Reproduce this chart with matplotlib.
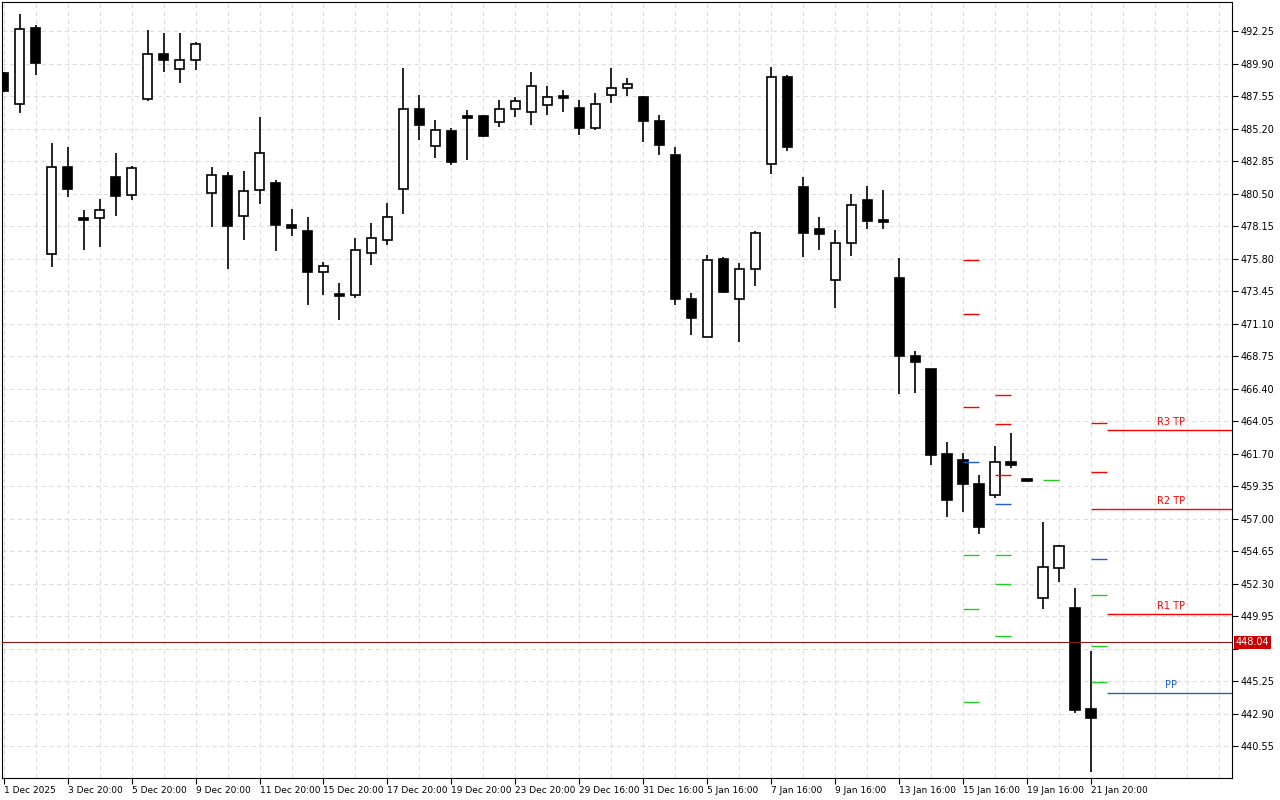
import matplotlib.pyplot as plt
from matplotlib.patches import Rectangle
import numpy as np

# OHLC, one candle per index
opens = [489.21, 486.97, 492.47, 476.12, 482.41, 478.65, 478.73, 481.69, 480.39, 487.33,
         490.59, 489.50, 490.15, 480.53, 481.76, 478.87, 480.75, 481.26, 478.22, 477.79,
         474.83, 473.16, 473.16, 476.20, 477.14, 480.82, 486.61, 483.93, 485.02, 486.03,
         486.10, 485.67, 486.61, 486.39, 486.90, 487.48, 486.68, 485.24, 487.62, 488.13,
         487.48, 485.74, 483.28, 472.87, 470.12, 475.76, 472.87, 475.04, 482.63, 488.92,
         480.97, 477.93, 474.25, 476.92, 480.03, 478.51, 474.39, 468.75, 467.81, 461.66,
         461.23, 459.49, 458.70, 461.09, 459.78, 451.25, 453.42, 450.53, 443.23]
highs = [489.28, 493.48, 492.68, 484.15, 483.86, 479.31, 480.10, 483.43, 482.49, 492.32,
         492.10, 492.10, 491.45, 482.41, 482.05, 482.13, 486.03, 481.48, 479.38, 478.80,
         475.55, 474.03, 477.28, 478.37, 479.81, 489.57, 487.62, 485.81, 485.24, 486.54,
         486.18, 487.26, 487.48, 489.28, 488.27, 487.98, 487.26, 487.77, 489.57, 488.85,
         487.55, 486.18, 483.86, 473.30, 476.05, 475.91, 475.47, 477.79, 489.65, 489.07,
         481.69, 478.80, 477.86, 480.46, 481.04, 480.75, 475.84, 469.11, 467.81, 462.53,
         461.74, 460.15, 462.24, 463.18, 459.78, 456.75, 455.08, 451.98, 447.42]
lows = [487.84, 486.32, 489.07, 475.18, 480.25, 476.41, 476.63, 478.87, 480.03, 487.19,
        489.28, 488.49, 489.43, 478.08, 475.04, 477.14, 479.74, 476.34, 477.43, 472.44,
        473.16, 471.35, 472.94, 475.33, 476.78, 479.02, 484.37, 483.07, 482.56, 482.92,
        484.58, 485.31, 486.03, 485.45, 486.18, 486.39, 484.73, 485.09, 487.04, 487.55,
        484.22, 483.28, 472.44, 470.27, 470.12, 473.30, 469.76, 473.81, 481.91, 483.57,
        475.91, 476.41, 472.22, 475.98, 477.93, 477.93, 466.00, 466.07, 460.87, 457.11,
        457.47, 455.88, 458.48, 460.65, 459.71, 450.46, 452.41, 442.94, 438.67]
closes = [487.91, 492.39, 489.93, 482.41, 480.82, 478.58, 479.31, 480.32, 482.34, 490.59,
          490.15, 490.15, 491.31, 481.84, 478.15, 480.68, 483.43, 478.22, 478.00, 474.83,
          475.26, 473.09, 476.41, 477.28, 478.80, 486.61, 485.45, 485.09, 482.78, 485.96,
          484.66, 486.61, 487.19, 488.27, 487.48, 487.40, 485.24, 486.97, 488.13, 488.42,
          485.74, 484.01, 472.87, 471.50, 475.69, 473.38, 475.04, 477.64, 488.92, 483.86,
          477.64, 477.57, 476.92, 479.67, 478.51, 478.44, 468.75, 468.32, 461.59, 458.34,
          459.49, 456.38, 461.09, 460.87, 459.71, 453.49, 455.01, 443.16, 442.58]

# daily pivot markers: (candle index, level, colour)
piv_idx = [60, 60, 60, 60, 60, 60, 60,
           62, 62, 62, 62, 62, 62, 62,
           65,
           68, 68, 68, 68, 68, 68, 68]
piv_val = [475.69, 471.79, 465.06, 461.09, 454.36, 450.46, 443.74,
           465.93, 463.83, 460.15, 458.05, 454.36, 452.27, 448.51,
           459.78,
           463.91, 460.36, 457.69, 454.07, 451.47, 447.78, 445.18]
piv_col = ['r', 'r', 'r', 'b', 'g', 'g', 'g',
           'r', 'r', 'r', 'b', 'g', 'g', 'g',
           'g',
           'r', 'r', 'r', 'b', 'g', 'g', 'g']

tp_names = ['R3 TP', 'R2 TP', 'R1 TP', 'PP']
tp_vals = [463.40, 457.69, 450.10, 444.38]
tp_cols = ['#ff0000', '#ff0000', '#ff0000', '#1f5fd0']
last_price = 448.04

tick_idx = [0, 4, 8, 12, 16, 20, 24, 28, 32, 36, 40, 44, 48, 52, 56, 60, 64, 68]
tick_lbl = ['1 Dec 2025', '3 Dec 20:00', '5 Dec 20:00', '9 Dec 20:00', '11 Dec 20:00',
            '15 Dec 20:00', '17 Dec 20:00', '19 Dec 20:00', '23 Dec 20:00', '29 Dec 16:00',
            '31 Dec 16:00', '5 Jan 16:00', '7 Jan 16:00', '9 Jan 16:00', '13 Jan 16:00',
            '15 Jan 16:00', '19 Jan 16:00', '21 Jan 20:00']
y_ticks = [492.25, 489.90, 487.55, 485.20, 482.85, 480.50, 478.15, 475.80, 473.45, 471.10,
           468.75, 466.40, 464.05, 461.70, 459.35, 457.00, 454.65, 452.30, 449.95, 447.60,
           445.25, 442.90, 440.55]

colmap = {'r': '#ff0000', 'g': '#22cc22', 'b': '#1f5fd0'}

fig = plt.figure(figsize=(12.8, 8), dpi=100)
ax = fig.add_axes([2 / 1280, 22 / 800, 1230 / 1280, 776 / 800])
ax.set_xlim(-0.1, 76.8)
ax.set_ylim(438.24, 494.35)

for g in np.arange(0, 77, 2):
    ax.axvline(g, color='#dddddd', ls=(0, (4, 3)), lw=0.8, zorder=0)
for t in y_ticks:
    ax.axhline(t, color='#dddddd', ls=(0, (4, 3)), lw=0.8, zorder=0)

w = 0.6
for i in range(len(opens)):
    o, h, l, c = opens[i], highs[i], lows[i], closes[i]
    ax.vlines(i, l, h, color='black', lw=1.2, zorder=2)
    lo, hi = min(o, c), max(o, c)
    face = 'white' if c > o else 'black'
    ax.add_patch(Rectangle((i - w / 2, lo), w, max(hi - lo, 0.12), facecolor=face,
                           edgecolor='black', lw=1.2, zorder=3))

for i, v, c in zip(piv_idx, piv_val, piv_col):
    ax.hlines(v, i, i + 1, color=colmap[c], lw=1, zorder=4)

for n, v, c in zip(tp_names, tp_vals, tp_cols):
    ax.hlines(v, 69, 76.8, color=c, lw=1, zorder=4)
    ax.text(73, v + 0.25, n, color=c, fontsize=7, ha='center', va='bottom')

ax.axhline(last_price, color='#8b1a1a', lw=0.8, zorder=4)

ax.yaxis.tick_right()
ax.set_yticks(y_ticks)
ax.set_yticklabels([f'{t:.2f}' if t != 447.60 else '' for t in y_ticks], fontsize=7)
ax.set_xticks(tick_idx)
ax.set_xticklabels(tick_lbl, fontsize=6.5, ha='left')
ax.tick_params(length=4, width=0.8, pad=2)
ax.text(1.003, (last_price - 438.24) / (494.35 - 438.24), f'{last_price:.2f}',
        transform=ax.transAxes, fontsize=7, color='white', va='center', ha='left',
        zorder=10, clip_on=False,
        bbox=dict(boxstyle='square,pad=0.2', fc='#cc0000', ec='none'))

fig.savefig('out.png')
